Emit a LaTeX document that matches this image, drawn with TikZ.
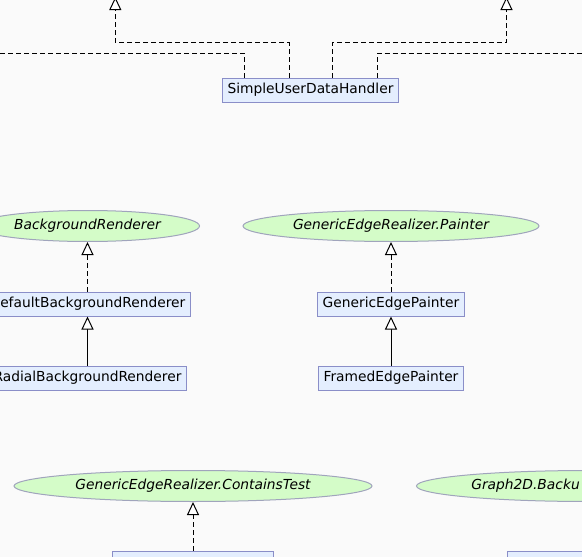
\documentclass[tikz,border=0pt]{standalone}
\usepackage{fontspec}
\setmainfont{DejaVu Sans}
\usetikzlibrary{arrows.meta, shapes.geometric, positioning}
\definecolor{clsfill}{HTML}{E4EEFE}
\definecolor{clsdraw}{HTML}{8A8EC8}
\definecolor{ifacefill}{HTML}{D4FCC8}
\definecolor{ifacedraw}{HTML}{A0A4BC}
\definecolor{canvas}{HTML}{FAFAFA}

\begin{document}
\begin{tikzpicture}[x=1pt, y=-1pt,
    every node/.style={font=\fontsize{13.8}{16}\selectfont},
    cls/.style={rectangle, draw=clsdraw, fill=clsfill, line width=1pt, minimum height=24pt, inner xsep=5.5pt, inner ysep=0pt},
    iface/.style={ellipse, draw=ifacedraw, fill=ifacefill, line width=1pt, minimum height=31pt, inner sep=0pt, font=\fontsize{13.8}{16}\selectfont\itshape},
    link/.style={draw, line width=1pt, dash pattern=on 5pt off 3pt},
    realize/.style={link, -{Triangle[length=13pt, width=12pt, fill=white]}},
    extend/.style={draw, line width=1pt, -{Triangle[length=13pt, width=12pt, fill=white]}}
]
\useasboundingbox (0,0) rectangle (582,557);
\fill[canvas] (0,0) rectangle (582,557);
\clip (0,0) rectangle (582,557);

% handler and the two interfaces above the crop
\node[cls] (handler) at (310.5,90) {SimpleUserDataHandler};
\coordinate (ifaceA) at (115.3,-3);
\coordinate (ifaceB) at (506.5,-3);
\coordinate (leftOut) at (-10,53);
\coordinate (rightOut) at (592,53);

% renderers
\node[iface, minimum width=224pt] (bgRenderer) at (87.5,226) {BackgroundRenderer};
\node[cls] (defaultBg) at (87.5,304) {DefaultBackgroundRenderer};
\node[cls] (radialBg) at (87.5,378) {RadialBackgroundRenderer};

% painters
\node[iface, minimum width=296pt] (painterIf) at (391,226) {GenericEdgeRealizer.Painter};
\node[cls] (edgePainter) at (391,304) {GenericEdgePainter};
\node[cls] (framedPainter) at (391,378) {FramedEdgePainter};

% bottom row
\node[iface, minimum width=358pt] (containsTest) at (193,486) {GenericEdgeRealizer.ContainsTest};
\node[iface, minimum width=344pt, anchor=west] (backup) at (416,486) {Graph2D.Backu\phantom{pRealizersHandler}};
\node[cls, minimum width=161pt] (containsImpl) at (193,563) {};
\node[cls, minimum width=160pt, anchor=north west] (backupImpl) at (507,551) {};

\draw[realize] ([xshift=-21.5pt]handler.north) -- ++(0,-35) -| (ifaceA);
\draw[realize] ([xshift=21.5pt]handler.north) -- ++(0,-35) -| (ifaceB);
\draw[link] ([xshift=-66.5pt]handler.north) |- (leftOut);
\draw[link] ([xshift=66.5pt]handler.north) |- (rightOut);

\draw[realize] (defaultBg) -- (bgRenderer);
\draw[extend] (radialBg) -- (defaultBg);
\draw[realize] (edgePainter) -- (painterIf);
\draw[extend] (framedPainter) -- (edgePainter);
\draw[realize] (containsImpl) -- (containsTest);
\end{tikzpicture}
\end{document}
